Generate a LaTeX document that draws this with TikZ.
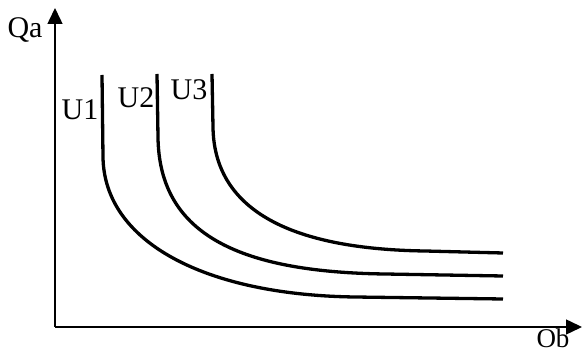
\documentclass[tikz,border=0pt]{standalone}
\usepackage{fontspec}
\setmainfont{Liberation Serif}
\usetikzlibrary{arrows.meta}

\tikzset{
  axis/.style={line width=1.5pt,-{Triangle[length=16pt,width=15pt]}},
  indiff/.style={line width=3.3pt},
  lbl/.style={font=\fontsize{30}{30}\selectfont,inner sep=0pt}
}

\begin{document}
\begin{tikzpicture}[x=1pt,y=1pt]
    \useasboundingbox (-55,-26) rectangle (527,327);
    % --- axes
    \coordinate (O) at (0,0);
    \coordinate (ytip) at (0,319);
    \coordinate (xtip) at (527,0);
    \draw[axis] (O) -- (ytip);
    \draw[axis] (O) -- (xtip);
    \node[lbl] (qa) at (-30,297) {Qa};
    \node[lbl,font=\fontsize{27}{27}\selectfont] (ob) at (498,-11) {Ob};
    % --- indifference curves
    \draw[indiff] (47,252) -- (48,170) .. controls (49,85) and (150,32) .. (300,30) -- (448,28);
    \draw[indiff] (102,253) -- (103,190) .. controls (104,95) and (180,55) .. (330,53) -- (448,51);
    \draw[indiff] (157,253) -- (158,200) .. controls (159,120) and (230,78) .. (370,76) -- (448,74);
    \node[lbl] (u1) at (25,217) {U1};
    \node[lbl] (u2) at (81,229) {U2};
    \node[lbl] (u3) at (134,237) {U3};
  \end{tikzpicture}
\end{document}
